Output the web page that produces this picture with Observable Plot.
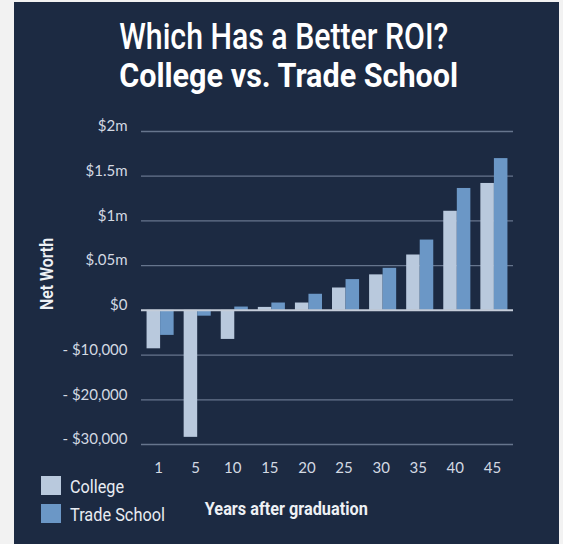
<!DOCTYPE html>
<html>
<head>
<meta charset="utf-8">
<script src="https://cdn.jsdelivr.net/npm/d3@7"></script>
<script src="https://cdn.jsdelivr.net/npm/@observablehq/plot@0.6"></script>
<style>
  html, body { margin: 0; padding: 0; background: #f2f2f2; width: 563px; height: 544px; overflow: hidden; }
  #panel { position: absolute; left: 14px; top: 2px; width: 545px; height: 542px; background: #1c2a42; }
  #chart { position: absolute; left: 0; top: 113px; }
  #overlay { position: absolute; left: 0; top: 0; pointer-events: none; }
</style>
</head>
<body>
<div id="panel"><div id="chart"></div></div>
<svg id="overlay" width="563" height="544"></svg>
<script>
// ---- data ----
const years = ["1", "5", "10", "15", "20", "25", "30", "35", "40", "45"];
const college = [-8600, -28400, -6500, 33000, 82000, 250000, 397000, 619000, 1108000, 1419000];
const trade = [-5600, -1300, 37000, 82000, 180000, 344000, 470000, 786000, 1363000, 1697000];
const seriesNames = ["College", "Trade School"];
const seriesColors = ["#b9c9dd", "#6b97c6"];
const tickValues = [-30000, -20000, -10000, 0, 500000, 1000000, 1500000, 2000000];
const tickLabels = ["- $30,000", "- $20,000", "- $10,000", "$0", "$.05m", "$1m", "$1.5m", "$2m"];
const titleLines = ["Which Has a Better ROI?", "College vs. Trade School"];
const xTitle = "Years after graduation";
const yTitle = "Net Worth";

// ---- build table ----
const rows = years.flatMap((y, i) => [
  {year: y, series: seriesNames[0], value: college[i]},
  {year: y, series: seriesNames[1], value: trade[i]}
]);

// the axis is piecewise: each tick is equally spaced
const pos = d3.scaleLinear().domain(tickValues).range(d3.range(tickValues.length));
const zeroIdx = tickValues.indexOf(0);

const W = 545, H = 370, mL = 127, mR = 46, mT = 16, mB = 41;
const pI = 0.27, pO = 0.15;
const step = (W - mL - mR) / (years.length - pI + 2 * pO);
const half = step * (1 - pI) / 2;

const font = "Lato, 'Open Sans', sans-serif";

const chart = Plot.plot({
  width: W, height: H,
  marginLeft: mL, marginRight: mR, marginTop: mT, marginBottom: mB,
  style: {background: "transparent", fontFamily: font, fontSize: "15px", color: "#d3d9e2"},
  x: {domain: years, paddingInner: pI, paddingOuter: pO, round: false, label: null},
  y: {domain: [0, tickValues.length - 1], label: null},
  color: {domain: seriesNames, range: seriesColors},
  marks: [
    Plot.gridY(d3.range(tickValues.length).filter(i => i !== zeroIdx), {stroke: "#66758d", strokeOpacity: 1, strokeWidth: 1.3}),
    Plot.barY(rows.filter(d => d.series === seriesNames[0]), {
      x: "year", y1: () => zeroIdx, y2: d => pos(d.value), fill: "series", insetRight: half
    }),
    Plot.barY(rows.filter(d => d.series === seriesNames[1]), {
      x: "year", y1: () => zeroIdx, y2: d => pos(d.value), fill: "series", insetLeft: half
    }),
    Plot.ruleY([zeroIdx], {stroke: "#c5cdd9", strokeWidth: 2}),
    Plot.axisY(d3.range(tickValues.length), {
      tickFormat: i => tickLabels[i], tickSize: 0, tickPadding: 14, dy: -5,
      fill: "#d3d9e2", fontSize: 15, label: null
    }),
    Plot.axisX({tickSize: 0, tickPadding: 18, dx: -2, fill: "#d3d9e2", fontSize: 15, label: null})
  ]
});
document.getElementById("chart").appendChild(chart);

// ---- titles, axis titles and legend ----
const ov = d3.select("#overlay");
const cf = "Roboto, 'Noto Sans', sans-serif";
ov.append("text").text(titleLines[0])
  .attr("x", 283.7).attr("y", 49.3).attr("text-anchor", "middle")
  .attr("textLength", 329).attr("lengthAdjust", "spacingAndGlyphs")
  .attr("fill", "#ffffff").attr("font-family", cf).attr("font-size", 36).attr("font-weight", 500);
ov.append("text").text(titleLines[1])
  .attr("x", 288.7).attr("y", 87.3).attr("text-anchor", "middle")
  .attr("textLength", 339).attr("lengthAdjust", "spacingAndGlyphs")
  .attr("fill", "#ffffff").attr("font-family", cf).attr("font-size", 34).attr("font-weight", 700);
ov.append("text").text(xTitle)
  .attr("x", 286.3).attr("y", 515).attr("text-anchor", "middle")
  .attr("textLength", 163).attr("lengthAdjust", "spacingAndGlyphs")
  .attr("fill", "#eef1f5").attr("font-family", cf).attr("font-size", 18).attr("font-weight", 700);
ov.append("text").text(yTitle)
  .attr("transform", "translate(52.5,274) rotate(-90)").attr("text-anchor", "middle")
  .attr("textLength", 72).attr("lengthAdjust", "spacingAndGlyphs")
  .attr("fill", "#eef1f5").attr("font-family", cf).attr("font-size", 19).attr("font-weight", 600);

const legendY = [476, 504];
const legendBase = [493, 521];
const legendLen = [54, 95];
seriesNames.forEach((name, i) => {
  ov.append("rect").attr("x", 41).attr("y", legendY[i]).attr("width", 20).attr("height", 19)
    .attr("fill", seriesColors[i]);
  ov.append("text").text(name).attr("x", 70).attr("y", legendBase[i])
    .attr("textLength", legendLen[i]).attr("lengthAdjust", "spacingAndGlyphs")
    .attr("fill", "#e8ecf2").attr("font-family", cf).attr("font-size", 18.5);
});
</script>
</body>
</html>
